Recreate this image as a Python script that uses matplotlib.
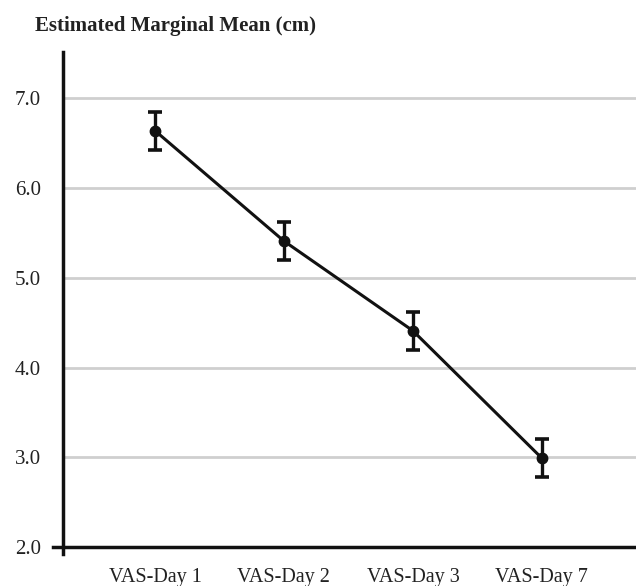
import matplotlib
matplotlib.use("Agg")
import matplotlib.pyplot as plt

categories = ["VAS-Day 1", "VAS-Day 2", "VAS-Day 3", "VAS-Day 7"]
means = [6.64, 5.41, 4.41, 2.99]
errors = [0.21, 0.21, 0.21, 0.21]
yticks = [2.0, 3.0, 4.0, 5.0, 6.0, 7.0]
ytick_labels = ["2.0", "3.0", "4.0", "5.0", "6.0", "7.0"]
title = "Estimated Marginal Mean (cm)"

plt.rcParams['font.family'] = ['Liberation Serif', 'DejaVu Serif']

fig = plt.figure(figsize=(6.36, 5.86), dpi=100)
ax = fig.add_axes([63/636, 1-547/586, 1-63/636, (547-51.7)/586])

x = list(range(len(categories)))
ax.errorbar(x, means, yerr=errors, color='#111111', lw=2.2, elinewidth=2.4,
            capsize=5, capthick=2.6, marker='o', markersize=7.5, zorder=3)

xmin, xmax = -0.713, 3.73
ymin, ymax = 2.0, 7.52
ax.set_xlim(xmin, xmax)
ax.set_ylim(ymin, ymax)
ax.set_yticks(yticks)
ax.set_yticklabels(ytick_labels, fontsize=15, color='#222222')
ax.set_xticks(x)
ax.set_xticklabels(categories, fontsize=14.5, color='#222222')
ax.tick_params(axis='both', which='major', length=0)
ax.tick_params(axis='y', pad=16)
ax.tick_params(axis='x', pad=15)

ax.yaxis.grid(True, color='#cfcfcf', lw=2)
ax.set_axisbelow(True)

for s in ['top', 'right']:
    ax.spines[s].set_visible(False)
for s in ['left', 'bottom']:
    ax.spines[s].set_linewidth(2.5)
    ax.spines[s].set_color('#111111')
ax.spines['bottom'].set_bounds(xmin - 10/129, xmax)
ax.spines['left'].set_bounds(ymin - 7/89.6, ymax)

fig.text(35/636, 1-31/586, title, fontsize=15, fontweight='bold',
         va='baseline', ha='left', color='#222222')

fig.savefig("out.png", dpi=100)
